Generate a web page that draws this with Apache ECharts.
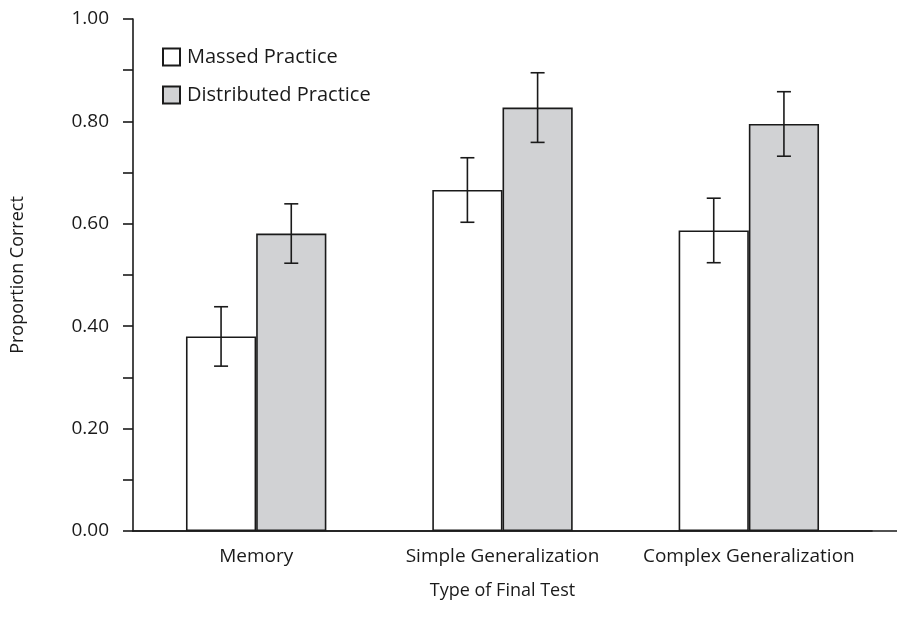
<!DOCTYPE html>
<html>
<head>
<meta charset="utf-8">
<script src="https://cdn.jsdelivr.net/npm/echarts@6/dist/echarts.min.js"></script>
<style>
  html, body { margin: 0; padding: 0; background: #fff; }
  #chart { width: 897px; height: 618px; }
</style>
</head>
<body>
<div id="chart"></div>
<script>
// Test types on the x axis
const categories = ['Memory', 'Simple Generalization', 'Complex Generalization'];
// Mean proportion correct per practice schedule
const massedValues = [0.380, 0.666, 0.587];
const distributedValues = [0.581, 0.827, 0.795];
// Half-length of each error bar
const massedErrors = [0.058, 0.063, 0.063];
const distributedErrors = [0.058, 0.068, 0.063];
// Y axis tick values
const yTicks = [0.0, 0.2, 0.4, 0.6, 0.8, 1.0];

const FONT = 'Open Sans';
const INK = '#1a1a1a';
const BAR_FRACTION = 0.285;

function errorData(values, errors) {
  return values.map((v, i) => [i, v - errors[i], v + errors[i]]);
}

function errorRenderer(side) {
  return function (params, api) {
    const idx = api.value(0);
    const band = api.size([1, 0])[0];
    const shift = side * band * BAR_FRACTION / 2;
    const lo = api.coord([idx, api.value(1)]);
    const hi = api.coord([idx, api.value(2)]);
    const x = lo[0] + shift;
    const cap = 7;
    const style = { stroke: INK, lineWidth: 1.6 };
    return {
      type: 'group',
      children: [
        { type: 'line', shape: { x1: x, y1: hi[1], x2: x, y2: lo[1] }, style },
        { type: 'line', shape: { x1: x - cap, y1: hi[1], x2: x + cap, y2: hi[1] }, style },
        { type: 'line', shape: { x1: x - cap, y1: lo[1], x2: x + cap, y2: lo[1] }, style }
      ]
    };
  };
}

const chart = echarts.init(document.getElementById('chart'), null, { renderer: 'canvas' });

chart.setOption({
  animation: false,
  textStyle: { fontFamily: FONT, color: INK },
  grid: [
    { left: 133, right: 25, top: 19, bottom: 87, containLabel: false },
    // wider frame that only carries the baseline out to the right edge
    { left: 133, right: 0, top: 19, bottom: 87, containLabel: false }
  ],
  legend: {
    orient: 'vertical',
    left: 157,
    top: 42,
    itemWidth: 17,
    itemHeight: 17,
    itemGap: 18,
    icon: 'rect',
    textStyle: { fontFamily: FONT, fontSize: 20, color: INK, padding: [0, 0, 0, 2] },
    data: ['Massed Practice', 'Distributed Practice']
  },
  xAxis: [
    {
      type: 'category',
      gridIndex: 0,
      data: categories,
      name: 'Type of Final Test',
      nameLocation: 'middle',
      nameGap: 51,
      nameTextStyle: { fontFamily: FONT, fontSize: 18, color: INK },
      axisLine: { lineStyle: { color: INK, width: 1.6 } },
      axisTick: { show: false },
      axisLabel: { fontFamily: FONT, fontSize: 19, color: INK, margin: 16, interval: 0 }
    },
    {
      type: 'value',
      gridIndex: 1,
      min: 0,
      max: 1,
      axisLine: { show: true, onZero: false, lineStyle: { color: INK, width: 1.6 } },
      axisTick: { show: false },
      axisLabel: { show: false },
      splitLine: { show: false }
    }
  ],
  yAxis: [
    {
      type: 'value',
      gridIndex: 0,
      min: yTicks[0],
      max: yTicks[yTicks.length - 1],
      interval: 0.2,
      name: 'Proportion Correct',
      nameLocation: 'middle',
      nameGap: 106,
      nameTextStyle: { fontFamily: FONT, fontSize: 18, color: INK },
      axisLine: { show: true, lineStyle: { color: INK, width: 1.6 } },
      axisTick: { show: true, inside: false, length: 10, lineStyle: { color: INK, width: 1.6 } },
      minorTick: { show: true, splitNumber: 2, length: 10, lineStyle: { color: INK, width: 1.6 } },
      splitLine: { show: false },
      axisLabel: {
        fontFamily: FONT, fontSize: 19, color: INK, margin: 24,
        formatter: v => v.toFixed(2)
      }
    },
    {
      type: 'value',
      gridIndex: 1,
      min: 0,
      max: 1,
      show: false
    }
  ],
  series: [
    {
      name: 'Massed Practice',
      type: 'bar',
      data: massedValues,
      barWidth: (BAR_FRACTION * 100) + '%',
      barGap: '0%',
      itemStyle: { color: '#ffffff', borderColor: INK, borderWidth: 1.6 },
      z: 2
    },
    {
      name: 'Distributed Practice',
      type: 'bar',
      data: distributedValues,
      barWidth: (BAR_FRACTION * 100) + '%',
      barGap: '0%',
      itemStyle: { color: '#d1d2d4', borderColor: INK, borderWidth: 1.6 },
      z: 2
    },
    {
      name: 'Massed error',
      type: 'custom',
      data: errorData(massedValues, massedErrors),
      encode: { x: 0, y: [1, 2] },
      renderItem: errorRenderer(-1),
      z: 5
    },
    {
      name: 'Distributed error',
      type: 'custom',
      data: errorData(distributedValues, distributedErrors),
      encode: { x: 0, y: [1, 2] },
      renderItem: errorRenderer(1),
      z: 5
    }
  ]
});
</script>
</body>
</html>
